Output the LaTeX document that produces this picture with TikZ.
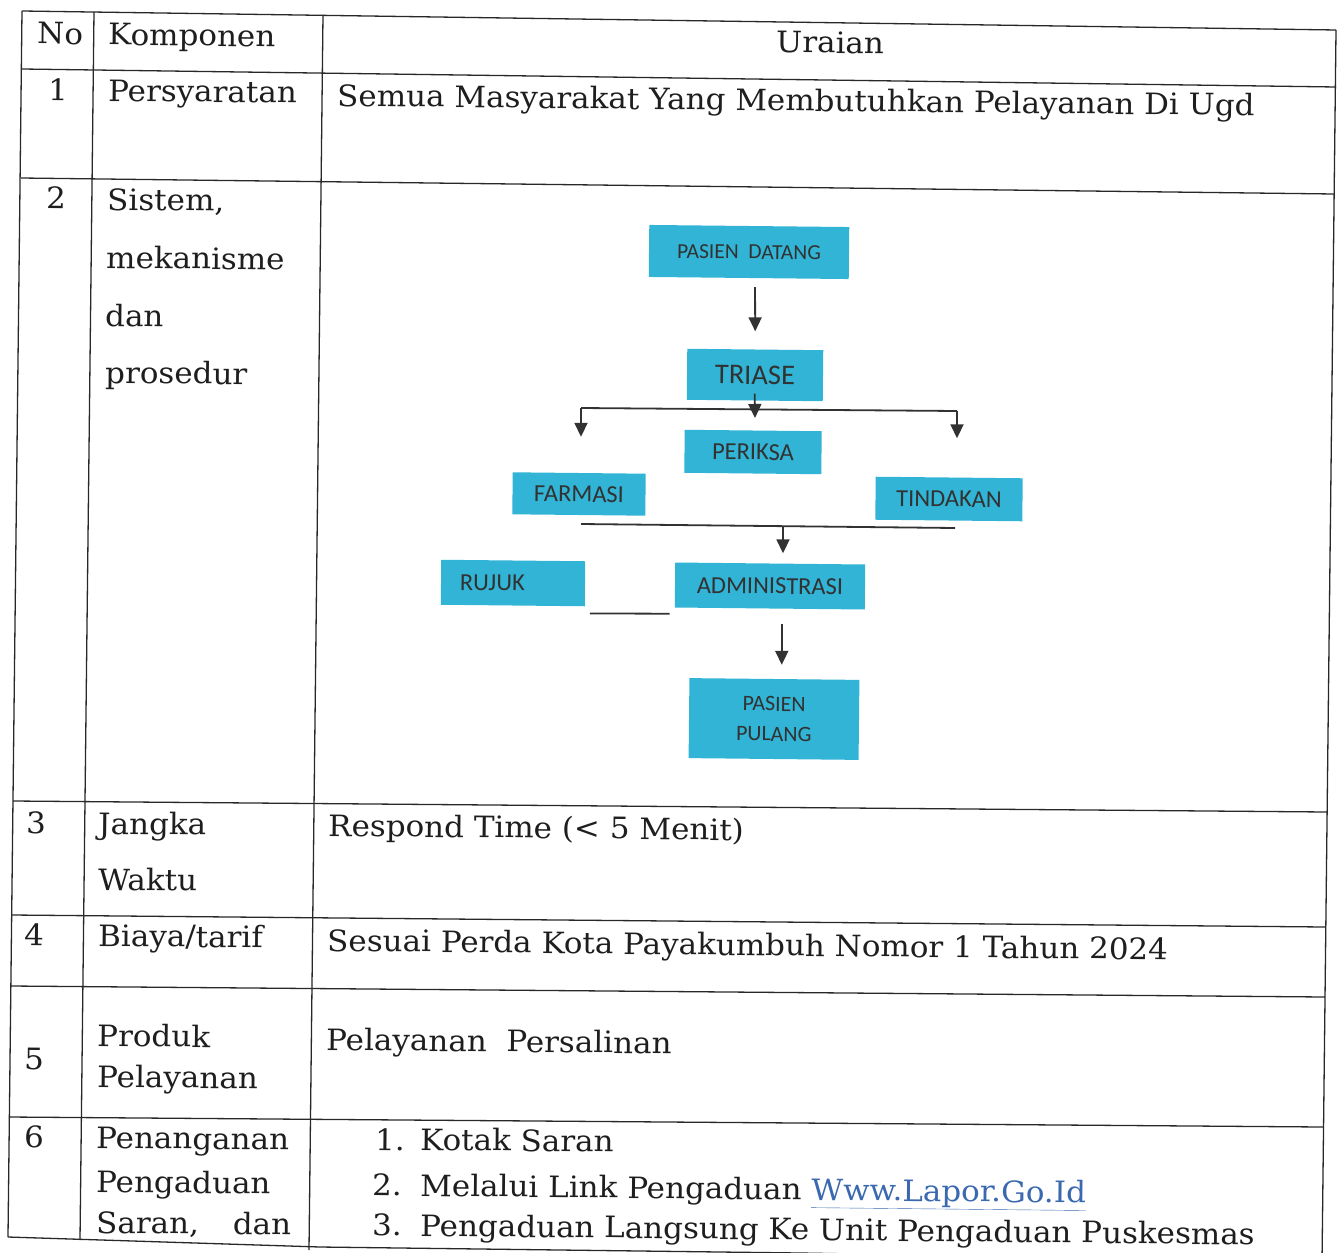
\documentclass[tikz,border=0pt]{standalone}
\usepackage{fontspec}
\setmainfont{DejaVu Serif}[FakeStretch=1.05]
\newfontfamily\boxfont{Carlito}
\usetikzlibrary{arrows.meta}
\definecolor{boxcyan}{RGB}{49,180,214}
\definecolor{boxtext}{RGB}{50,50,50}
\definecolor{linkblue}{RGB}{58,105,175}
\definecolor{rulegray}{RGB}{40,40,40}
\definecolor{inkgray}{RGB}{30,30,30}

\begin{document}
\begin{tikzpicture}[x=1pt,y=-1pt,
  gridline/.style={draw=rulegray, line width=1.3pt},
  txt/.style={anchor=base west, inner sep=0pt, rotate=-0.6,
    font=\fontsize{29.5}{34}\selectfont, text=inkgray},
  flowbox/.style={fill=boxcyan, inner sep=0pt, rotate=-0.6,
    font=\boxfont\fontsize{24.5}{28}\selectfont, text=boxtext},
  flowline/.style={draw=boxtext, line width=1.8pt},
  flowarrow/.style={flowline, -{Triangle[length=14pt,width=13pt]}},
]
\useasboundingbox (0,0) rectangle (1340,1252);
\clip (0,0) rectangle (1340,1252);

% ---- table rules ----
\draw[gridline] (22,11) -- (1336,30);
\draw[gridline] (22,69) -- (1336,87);
\draw[gridline] (21,178) -- (1334,194);
\draw[gridline] (13,801) -- (1327,812);
\draw[gridline] (12,915) -- (1325,927);
\draw[gridline] (11,986) -- (1325,997);
\draw[gridline] (9,1117) -- (1323,1127);
\draw[gridline] (8,1237) -- (320,1247) -- (800,1253) -- (1322,1262);
\draw[gridline] (22,11) -- (8,1237);
\draw[gridline] (94,12) -- (80,1240);
\draw[gridline] (323,15) -- (309,1250);
\draw[gridline] (1336,30) -- (1322,1262);

% ---- header ----
\node[txt] (hNo) at (37,44) {No};
\node[txt] (hKomp) at (108,45) {Komponen};
\node[txt, anchor=base] (hUraian) at (830,53) {Uraian};

% ---- row 1 ----
\node[txt] (n1) at (48,100) {1};
\node[txt] (k1) at (108,101) {Persyaratan};
\node[txt] (u1) at (337,106) {Semua Masyarakat Yang Membutuhkan Pelayanan Di Ugd};

% ---- row 2 ----
\node[txt] (n2) at (46,208) {2};
\node[txt] (k2a) at (107,210) {Sistem,};
\node[txt] (k2b) at (106,268) {mekanisme};
\node[txt] (k2c) at (105,326) {dan};
\node[txt] (k2d) at (105,383) {prosedur};

% ---- row 3 ----
\node[txt] (n3) at (26,833) {3};
\node[txt] (k3a) at (98,834) {Jangka};
\node[txt] (k3b) at (98,890) {Waktu};
\node[txt] (u3) at (328,836) {Respond Time (< 5 Menit)};

% ---- row 4 ----
\node[txt] (n4) at (24,945) {4};
\node[txt] (k4) at (98,946) {Biaya/tarif};
\node[txt] (u4) at (327,951) {Sesuai Perda Kota Payakumbuh Nomor 1 Tahun 2024};

% ---- row 5 ----
\node[txt] (n5) at (24,1069) {5};
\node[txt] (k5a) at (97,1046) {Produk};
\node[txt] (k5b) at (97,1087) {Pelayanan};
\node[txt] (u5) at (326,1050) {Pelayanan\ \ Persalinan};

% ---- row 6 ----
\node[txt] (n6) at (24,1147) {6};
\node[txt] (k6a) at (96,1148) {Penanganan};
\node[txt] (k6b) at (96,1192) {Pengaduan};
\node[txt] (k6c) at (96,1233) {Saran,\hspace{34pt}dan};
\node[txt] (l1n) at (375,1150) {1.};
\node[txt] (l1) at (420,1150) {Kotak Saran};
\node[txt] (l2n) at (372,1195) {2.};
\node[txt] (l2) at (420,1196) {Melalui Link Pengaduan \textcolor{linkblue}{\underline{Www.Lapor.Go.Id}}};
\node[txt] (l3n) at (372,1235) {3.};
\node[txt] (l3) at (420,1236) {Pengaduan Langsung Ke Unit Pengaduan Puskesmas};

% ---- flow chart ----
\node[flowbox, minimum width=200pt, minimum height=52pt, font=\boxfont\fontsize{21.5}{26}\selectfont]
  (datang) at (749,252) {PASIEN\ \ DATANG\hspace{10pt}};
\node[flowbox, minimum width=136pt, minimum height=51pt, font=\boxfont\fontsize{28.5}{32}\selectfont]
  (triase) at (755,375) {TRIASE\hspace{12pt}};
\node[flowbox, minimum width=137pt, minimum height=43pt] (periksa) at (753,452) {PERIKSA\hspace{12pt}};
\node[flowbox, minimum width=133pt, minimum height=42pt] (farmasi) at (579,494) {FARMASI};
\node[flowbox, minimum width=147pt, minimum height=43pt] (tindakan) at (949,499) {TINDAKAN};
\node[flowbox, minimum width=144pt, minimum height=45pt, text width=106pt, align=left, inner xsep=19pt]
  (rujuk) at (513,583) {RUJUK};
\node[flowbox, minimum width=190pt, minimum height=45pt] (admin) at (770,586) {ADMINISTRASI\hspace{6pt}};
\node[flowbox, minimum width=170pt, minimum height=80pt, align=center, font=\boxfont\fontsize{22}{30}\selectfont]
  (pulang) at (774,719) {PASIEN\\PULANG};

\coordinate (splitL) at (581,408);
\coordinate (splitR) at (957,411);
\coordinate (splitM) at (755,418);
\coordinate (mergeL) at (581,524);
\coordinate (mergeR) at (955,528);
\coordinate (mergeM) at (783,526);

\draw[flowarrow, shorten <=9pt, shorten >=18pt] (datang.south -| triase.center) -- (triase.north);
\draw[flowarrow] ([yshift=7pt]triase.south) -- (splitM);
\draw[flowline] (splitL) -- (splitR);
\draw[flowarrow, shorten >=36pt] (splitL) -- (splitL |- farmasi.north);
\draw[flowarrow, shorten >=39pt] (splitR) -- (splitR |- tindakan.north);
\draw[flowline] (mergeL) -- (mergeR);
\draw[flowarrow, shorten >=10pt] (mergeM) -- (mergeM |- admin.north);
\draw[flowline] ([xshift=5pt,yshift=-7pt]rujuk.south east) -- ([xshift=-5pt,yshift=-6pt]admin.south west);
\draw[flowarrow, shorten <=15pt, shorten >=14pt] ([xshift=12pt]admin.south) -- ([xshift=12pt]admin.south |- pulang.north);
\end{tikzpicture}
\end{document}
